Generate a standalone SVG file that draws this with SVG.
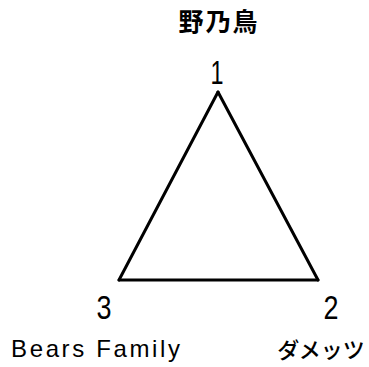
<svg xmlns="http://www.w3.org/2000/svg" width="369" height="367" viewBox="0 0 369 367">
<style>
.edge{stroke:#000;stroke-width:3;fill:none;stroke-linecap:round}
.num{font-family:"Liberation Sans",Arial,sans-serif;font-size:33px;fill:#000;text-anchor:middle}
.lat{font-family:"Liberation Sans",Arial,sans-serif;font-size:24px;fill:#000}
.jp{font-family:"Noto Sans CJK JP",sans-serif;fill:#000;text-anchor:middle}
</style>
<rect width="369" height="367" fill="#fff"/>
<g id="connectors">
<line class="edge" x1="218" y1="92" x2="119" y2="280"/>
<line class="edge" x1="218" y1="92" x2="318" y2="280"/>
<line class="edge" x1="119" y1="280" x2="318" y2="280"/>
</g>
<g id="node1">
<text class="jp" x="219" y="31" font-size="25" font-weight="bold" letter-spacing="2">野乃鳥</text>
<text class="num" x="217" y="84" textLength="13" lengthAdjust="spacingAndGlyphs">1</text>
</g>
<g id="node2">
<text class="num" x="331" y="319" textLength="15" lengthAdjust="spacingAndGlyphs">2</text>
<text class="jp" x="321" y="358" font-size="22" font-weight="500">ダメッツ</text>
</g>
<g id="node3">
<text class="num" x="104" y="319" textLength="15" lengthAdjust="spacingAndGlyphs">3</text>
<text class="lat" x="11" y="357" textLength="169" lengthAdjust="spacing">Bears  Family</text>
</g>
</svg>
